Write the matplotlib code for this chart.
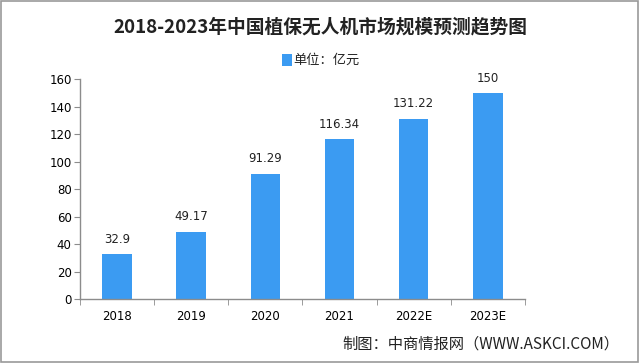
import matplotlib
matplotlib.use("Agg")
import matplotlib.pyplot as plt
from matplotlib.patches import Rectangle

plt.rcParams['font.family'] = ['Noto Sans CJK SC', 'DejaVu Sans']

categories = ["2018", "2019", "2020", "2021", "2022E", "2023E"]
values = [32.9, 49.17, 91.29, 116.34, 131.22, 150]
value_labels = ["32.9", "49.17", "91.29", "116.34", "131.22", "150"]
yticks = [0, 20, 40, 60, 80, 100, 120, 140, 160]

bar_color = "#3B9BF2"
axis_color = "#8C8C8C"

fig = plt.figure(figsize=(6.4, 3.63), dpi=100)
ax = fig.add_axes([0.125, 0.176, 0.695, 0.606])

x = list(range(len(categories)))
ax.bar(x, values, width=0.4, color=bar_color, zorder=2)
for xi, v, lab in zip(x, values, value_labels):
    ax.text(xi, v + 6, lab, ha='center', va='bottom', fontsize=8.5,
            family=['DejaVu Sans'], color='#222222')

ax.set_xlim(-0.5, len(categories) - 0.5)
ax.set_ylim(0, 160)
ax.set_yticks(yticks)
ax.set_yticklabels([str(t) for t in yticks], family=['DejaVu Sans'], fontsize=8.5)
ax.set_xticks(x)
ax.set_xticklabels(categories, family=['DejaVu Sans'], fontsize=8.5)
ax.set_xticks([i - 0.5 for i in range(len(categories) + 1)], minor=True)
ax.tick_params(axis='x', which='major', length=0, pad=8)
ax.tick_params(axis='x', which='minor', length=4, color=axis_color, direction='out')
ax.tick_params(axis='y', length=4, color=axis_color, direction='out', pad=2)

for s in ['top', 'right']:
    ax.spines[s].set_visible(False)
for s in ['left', 'bottom']:
    ax.spines[s].set_color(axis_color)
    ax.spines[s].set_linewidth(1.0)

fig.text(0.5, 0.925, "2018-2023年中国植保无人机市场规模预测趋势图", ha='center', va='center',
         fontsize=13.5, fontweight='bold', color='#222222')

# legend
fig.patches.append(Rectangle((0.440, 0.818), 0.016, 0.032, transform=fig.transFigure,
                             facecolor=bar_color, edgecolor='none'))
fig.text(0.459, 0.834, "单位：亿元", ha='left', va='center', fontsize=9.5, color='#222222')

fig.text(0.968, 0.052, "制图：中商情报网（WWW.ASKCI.COM）", ha='right', va='center',
         fontsize=11, color='#222222')

fig.patches.append(Rectangle((0.002, 0.003), 0.995, 0.994, transform=fig.transFigure,
                             facecolor='none', edgecolor='#999999', linewidth=1.2))

fig.savefig("out.png", dpi=100)
